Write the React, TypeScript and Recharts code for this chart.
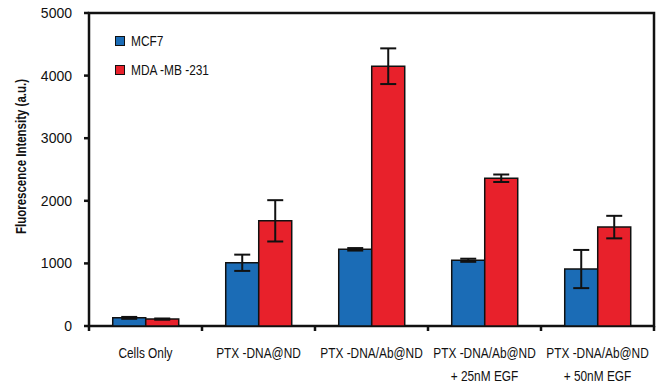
import React from 'react';
import * as R from 'recharts';
import { BarChart, Bar, XAxis, YAxis, ErrorBar, Legend } from 'recharts';

const categories = ['Cells Only', 'PTX -DNA@ND', 'PTX -DNA/Ab@ND', 'PTX -DNA/Ab@ND', 'PTX -DNA/Ab@ND'];
const subLabels = ['', '', '', '+ 25nM EGF', '+ 50nM EGF'];
const mcf7 = [130, 1010, 1225, 1050, 910];
const mcf7Err = [15, 130, 20, 25, 305];
const mda = [110, 1680, 4150, 2360, 1580];
const mdaErr = [10, 330, 285, 60, 180];
const yTicks = [0, 1000, 2000, 3000, 4000, 5000];
const yDomain = [0, 5000];

const data = categories.map((c, i) => ({
  idx: i,
  mcf7: mcf7[i],
  mcf7Err: mcf7Err[i],
  mda: mda[i],
  mdaErr: mdaErr[i],
}));

const FONT = "'Liberation Sans', Arial, sans-serif";
const INK = '#111';
const NARROW = 0.82;
const LINE_W = 2.5;
const TICK = 5;

const condense = (x: number) => `translate(${x} 0) scale(${NARROW} 1) translate(${-x} 0)`;

// Plot-area frame with category boundary ticks and value ticks, derived from the chart's plot area.
const Frame = () => {
  const hook: any = (R as any).usePlotArea;
  const pa = hook ? hook() : null;
  if (!pa) return null;
  const n = categories.length;
  const bottom = pa.y + pa.height;
  const step = pa.width / n;
  const yOf = (v: number) => bottom - ((v - yDomain[0]) / (yDomain[1] - yDomain[0])) * pa.height;
  return (
    <g>
      <rect x={pa.x} y={pa.y} width={pa.width} height={pa.height} fill="none" stroke={INK} strokeWidth={LINE_W} />
      {Array.from({ length: n + 1 }, (_, i) => (
        <line
          key={'x' + i}
          x1={pa.x + i * step}
          x2={pa.x + i * step}
          y1={bottom}
          y2={bottom + TICK}
          stroke={INK}
          strokeWidth={LINE_W}
        />
      ))}
      {yTicks.map((t) => (
        <line
          key={'y' + t}
          x1={pa.x - TICK}
          x2={pa.x}
          y1={yOf(t)}
          y2={yOf(t)}
          stroke={INK}
          strokeWidth={LINE_W}
        />
      ))}
    </g>
  );
};

const XTick = (props: any) => {
  const { x, y, payload } = props;
  const i = payload.value;
  return (
    <text
      x={x}
      y={y + 32}
      textAnchor="middle"
      fontFamily={FONT}
      fontSize={14.5}
      fill={INK}
      transform={condense(x)}
    >
      <tspan x={x}>{categories[i]}</tspan>
      {subLabels[i] ? (
        <tspan x={x} dy={23}>{subLabels[i]}</tspan>
      ) : null}
    </text>
  );
};

const YTick = (props: any) => {
  const { x, y, payload } = props;
  return (
    <text x={x} y={y} dy={5} textAnchor="end" fontFamily={FONT} fontSize={14} fill={INK}>
      {payload.value}
    </text>
  );
};

const YLabel = (props: any) => {
  const vb = props.viewBox || { x: 0, y: 13, width: 89, height: 313 };
  const cx = vb.x + 21;
  const cy = vb.y + vb.height / 2 - 13;
  return (
    <text
      x={cx}
      y={cy}
      transform={`rotate(-90 ${cx} ${cy}) ${condense(cx)}`}
      textAnchor="middle"
      dominantBaseline="central"
      fontFamily={FONT}
      fontWeight="bold"
      fontSize={14}
      fill={INK}
    >
      Fluorescence Intensity (a.u.)
    </text>
  );
};

const renderLegend = (props: any) => {
  const items = props.payload || [];
  return (
    <div style={{ display: 'flex', flexDirection: 'column' }}>
      {items.map((e: any) => (
        <div key={e.value} style={{ display: 'flex', alignItems: 'center', height: 29 }}>
          <span
            style={{
              display: 'inline-block',
              width: 8,
              height: 8,
              background: e.color,
              border: `1.5px solid ${INK}`,
              marginRight: 6,
            }}
          />
          <span
            style={{
              fontFamily: FONT,
              fontSize: 14.5,
              color: INK,
              display: 'inline-block',
              transform: `scaleX(${NARROW})`,
              transformOrigin: 'left center',
              whiteSpace: 'nowrap',
            }}
          >
            {e.value}
          </span>
        </div>
      ))}
    </div>
  );
};

export default function App() {
  return (
    <div style={{ position: 'absolute', left: 0, top: 0, width: 657, height: 384, background: '#fff' }}>
      <BarChart
        width={657}
        height={384}
        data={data}
        margin={{ top: 13, right: 3, bottom: 0, left: 0 }}
        barCategoryGap="21%"
        barGap={0}
      >
        <XAxis
          dataKey="idx"
          height={58}
          tickSize={0}
          tickMargin={0}
          axisLine={false}
          tickLine={false}
          tick={<XTick />}
          interval={0}
        />
        <YAxis
          width={89}
          domain={yDomain}
          ticks={yTicks}
          tickSize={TICK}
          tickMargin={12}
          tick={<YTick />}
          axisLine={false}
          tickLine={false}
          label={<YLabel />}
        />
        <Legend
          layout="vertical"
          align="center"
          verticalAlign="middle"
          content={renderLegend}
          wrapperStyle={{ left: 115, top: 26, width: 'auto', height: 'auto' }}
        />
        <Bar dataKey="mcf7" name="MCF7" fill="#1b6cb6" stroke={INK} strokeWidth={1.5} isAnimationActive={false}>
          <ErrorBar dataKey="mcf7Err" width={8} strokeWidth={2} stroke={INK} direction="y" />
        </Bar>
        <Bar dataKey="mda" name="MDA -MB -231" fill="#e8212b" stroke={INK} strokeWidth={1.5} isAnimationActive={false}>
          <ErrorBar dataKey="mdaErr" width={8} strokeWidth={2} stroke={INK} direction="y" />
        </Bar>
        <Frame />
      </BarChart>
    </div>
  );
}
